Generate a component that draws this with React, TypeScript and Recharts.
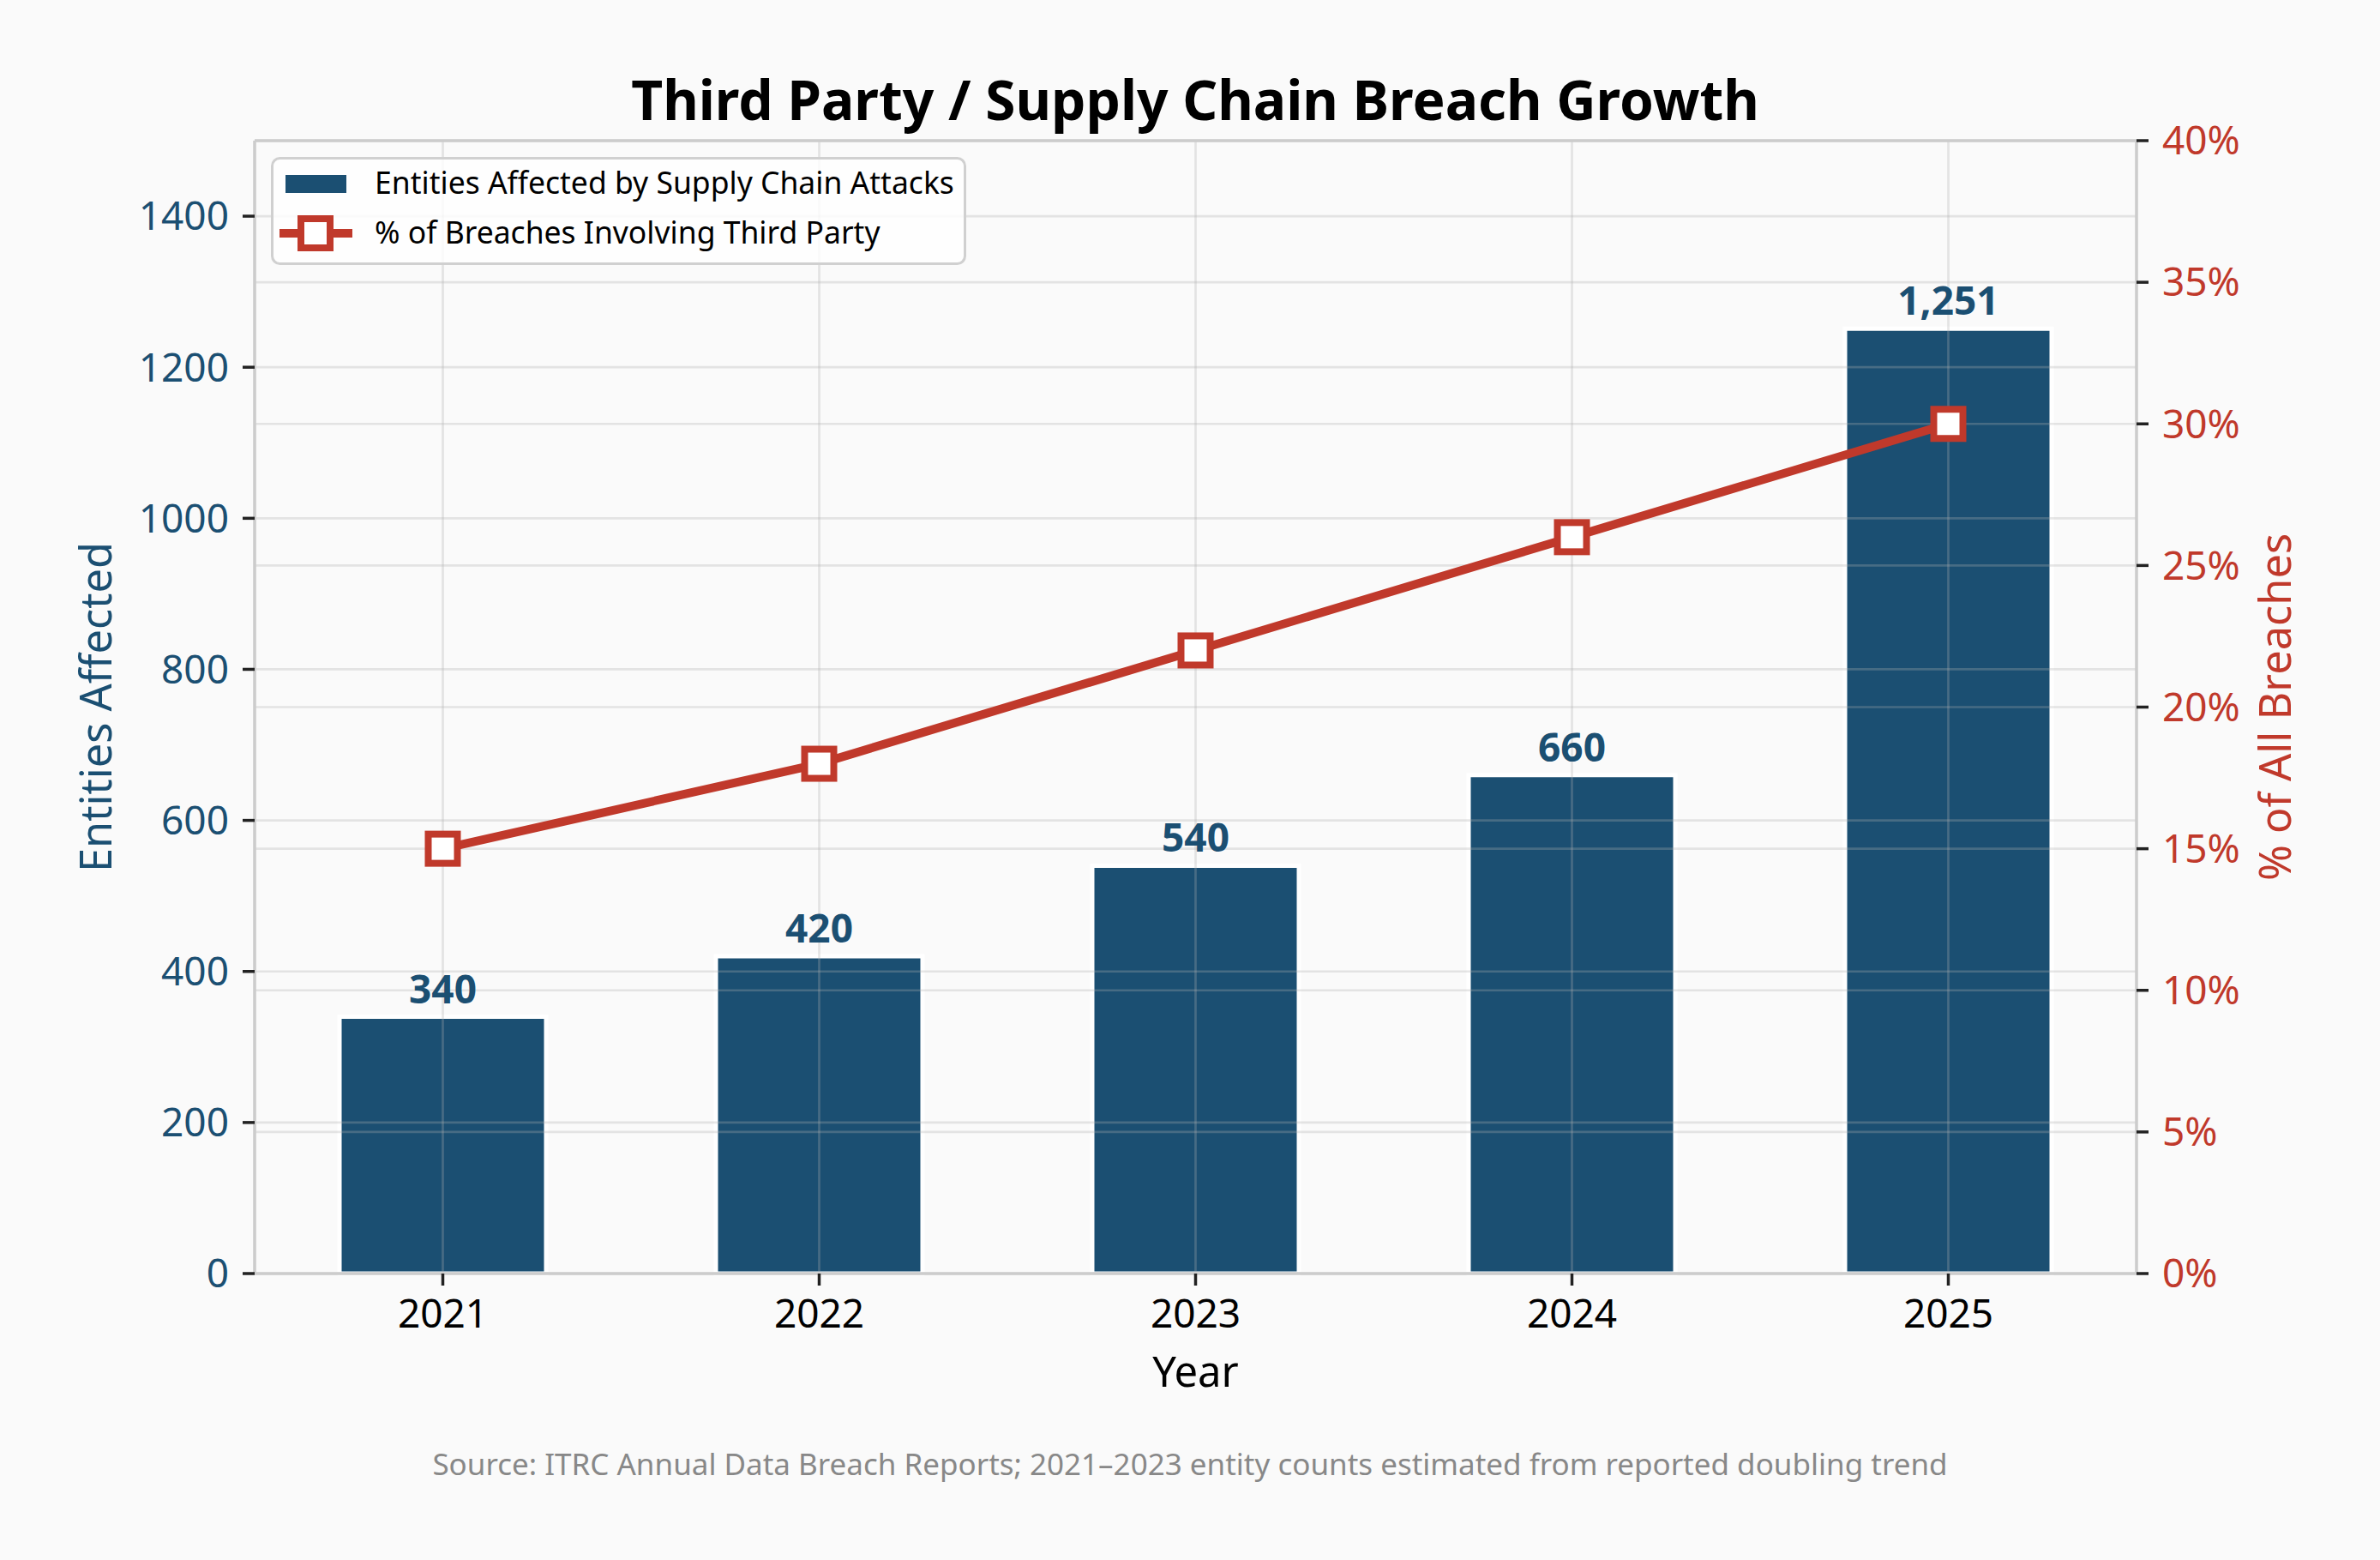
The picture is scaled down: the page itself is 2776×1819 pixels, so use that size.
import {
  Bar,
  CartesianGrid,
  ComposedChart,
  Label,
  LabelList,
  Legend,
  Line,
  ReferenceLine,
  XAxis,
  YAxis,
} from "recharts";

const YEARS = ["2021", "2022", "2023", "2024", "2025"];
const ENTITIES = [340, 420, 540, 660, 1251];
const THIRD_PARTY_PCT = [15, 18, 22, 26, 30];
const LEFT_TICKS = [0, 200, 400, 600, 800, 1000, 1200, 1400];
const RIGHT_TICKS = [0, 5, 10, 15, 20, 25, 30, 35, 40];

const BLUE = "#1b4f72";
const RED = "#c0392b";
const SPINE = "#cccccc";
const FONT = "'Noto Sans', 'Open Sans', sans-serif";

const W = 2776;
const H = 1819;

const data = YEARS.map((year, i) => ({
  year,
  entities: ENTITIES[i],
  pct: THIRD_PARTY_PCT[i],
}));

function LegendBox() {
  return (
    <svg width={811} height={126} style={{ display: "block" }}>
      <rect
        x={1.5}
        y={1.5}
        width={808}
        height={123}
        rx={9}
        fill="#ffffff"
        fillOpacity={0.8}
        stroke="#d0d0d0"
        strokeWidth={3}
      />
      <rect x={17} y={21} width={71} height={21} fill={BLUE} />
      <text x={121} y={43} fontSize={35.5} fill="#000">
        Entities Affected by Supply Chain Attacks
      </text>
      <line x1={10} x2={95} y1={89} y2={89} stroke={RED} strokeWidth={10} />
      <rect x={35} y={72} width={34} height={34} fill="#fff" stroke={RED} strokeWidth={8} />
      <text x={121} y={101} fontSize={35.5} fill="#000">
        % of Breaches Involving Third Party
      </text>
    </svg>
  );
}

export default function App() {
  return (
    <div
      style={{
        position: "absolute",
        left: 0,
        top: 0,
        width: W,
        height: H,
        background: "#fafafa",
        fontFamily: FONT,
      }}
    >
      <ComposedChart
        width={W}
        height={H}
        data={data}
        margin={{ top: 164, right: 104, bottom: 234, left: 117 }}
      >
        <XAxis
          dataKey="year"
          xAxisId="x"
          height={100}
          axisLine={{ stroke: SPINE, strokeWidth: 3.5 }}
          tickLine={{ stroke: "#222", strokeWidth: 3.5 }}
          tickSize={14}
          tickMargin={16}
          tick={{ fill: "#000", fontSize: 46 }}
        >
          <Label
            value="Year"
            position="bottom"
            offset={-3}
            fill="#000"
            fontSize={49}
          />
        </XAxis>
        <YAxis
          yAxisId="left"
          width={180}
          domain={[0, 1500]}
          ticks={LEFT_TICKS}
          axisLine={{ stroke: SPINE, strokeWidth: 3.5 }}
          tickLine={{ stroke: "#222", strokeWidth: 3.5 }}
          tickSize={14}
          tickMargin={16}
          tick={{ fill: BLUE, fontSize: 46 }}
        >
          <Label
            value="Entities Affected"
            position="left"
            offset={5}
            angle={-90}
            fill={BLUE}
            fontSize={50.5}
            style={{ textAnchor: "middle" }}
          />
        </YAxis>
        <YAxis
          yAxisId="right"
          orientation="right"
          width={180}
          domain={[0, 40]}
          ticks={RIGHT_TICKS}
          tickFormatter={(v) => `${v}%`}
          axisLine={{ stroke: SPINE, strokeWidth: 3.5 }}
          tickLine={{ stroke: "#222", strokeWidth: 3.5 }}
          tickSize={14}
          tickMargin={16}
          tick={{ fill: RED, fontSize: 46 }}
        >
          <Label
            value="% of All Breaches"
            position="insideRight"
            offset={18}
            angle={-90}
            fill={RED}
            fontSize={50.5}
            style={{ textAnchor: "middle" }}
          />
        </YAxis>

        <Bar
          dataKey="entities"
          xAxisId="x"
          yAxisId="left"
          fill={BLUE}
          stroke="#ffffff"
          strokeWidth={5}
          barSize={241}
          isAnimationActive={false}
        >
          <LabelList
            dataKey="entities"
            position="top"
            offset={16}
            formatter={(v) => Number(v).toLocaleString("en-US")}
            fill={BLUE}
            fontSize={46}
            fontWeight={700}
          />
        </Bar>

        {/* grid sits over the bars, as in the source figure */}
        <CartesianGrid
          xAxisId="x"
          yAxisId="left"
          stroke="#b0b0b0"
          strokeOpacity={0.3}
          strokeWidth={2.7}
          zIndex={350}
        />
        <CartesianGrid
          xAxisId="x"
          yAxisId="right"
          vertical={false}
          stroke="#b0b0b0"
          strokeOpacity={0.3}
          strokeWidth={2.7}
          zIndex={350}
        />
        <ReferenceLine
          xAxisId="x"
          yAxisId="left"
          y={1500}
          stroke={SPINE}
          strokeWidth={3.5}
          ifOverflow="visible"
        />

        <Line
          dataKey="pct"
          xAxisId="x"
          yAxisId="right"
          stroke={RED}
          strokeWidth={10}
          isAnimationActive={false}
          dot={(p: any) => (
            <rect
              key={`dot-${p.index}`}
              x={p.cx - 17}
              y={p.cy - 17}
              width={34}
              height={34}
              fill="#fff"
              stroke={RED}
              strokeWidth={8}
            />
          )}
          activeDot={false}
        />

        <Legend
          layout="horizontal"
          verticalAlign="middle"
          align="center"
          content={() => <LegendBox />}
          wrapperStyle={{ position: "absolute", left: 316, top: 183, width: 811, height: 126 }}
        />
      </ComposedChart>

      <svg
        width={W}
        height={H}
        style={{ position: "absolute", left: 0, top: 0, pointerEvents: "none" }}
      >
        <text x={1394} y={140} textAnchor="middle" fontSize={64} fontWeight={700} fill="#000">
          Third Party / Supply Chain Breach Growth
        </text>
        <text x={1388} y={1720} textAnchor="middle" fontSize={35} fill="#888888">
          Source: ITRC Annual Data Breach Reports; 2021–2023 entity counts estimated from reported doubling trend
        </text>
      </svg>
    </div>
  );
}
